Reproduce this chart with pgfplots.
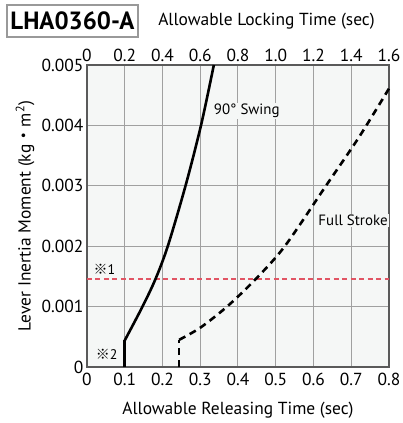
\documentclass[border=0pt]{standalone}
\usepackage{pgfplots}
\pgfplotsset{compat=1.18}
\usepackage{fontspec}
\setmainfont{PT Sans}
\newfontfamily\cjk{Noto Sans CJK JP}
\definecolor{bgc}{HTML}{F5F7F6}
\definecolor{gridc}{HTML}{A0A0A0}
\definecolor{axc}{HTML}{5A5A5A}
\begin{document}
\begin{tikzpicture}[x=1bp,y=1bp]
\useasboundingbox (-87,-56) rectangle (316,367);
\begin{axis}[at={(0,0)}, anchor=south west, scale only axis, width=302bp, height=302bp,
  xmin=0, xmax=0.8, ymin=0, ymax=0.005,
  scaled y ticks=false, scaled x ticks=false,
  xtick={0,0.1,0.2,0.3,0.4,0.5,0.6,0.7,0.8},
  xticklabels={0,0.1,0.2,0.3,0.4,0.5,0.6,0.7,0.8},
  ytick={0,0.001,0.002,0.003,0.004,0.005},
  yticklabels={0,0.001,0.002,0.003,0.004,0.005},
  grid=major, major grid style={gridc, line width=1bp},
  axis line style={axc, line width=2.5bp},
  axis background/.style={fill=bgc},
  major tick length=0pt,
  tick label style={font=\fontsize{17.5}{20}\selectfont},
  xticklabel style={yshift=-3bp},
  /pgf/number format/assume math mode=true,
  xlabel={Allowable Releasing Time (sec)},
  xlabel style={at={(axis description cs:0.5,-0.142)}, anchor=center, font=\fontsize{17.5}{20}\selectfont},
  ylabel={Lever Inertia Moment (kg{\cjk ・}m\textsuperscript{2})},
  ylabel style={at={(axis description cs:-0.205,0.5)}, anchor=center, font=\fontsize{17.5}{20}\selectfont},
  clip=false,
]
\addplot[draw={rgb,255:red,225;green,85;blue,100}, line width=2bp, dash pattern=on 5bp off 3.5bp] coordinates {(0,0.00145) (0.8,0.00145)};
\addplot[black, line width=2.6bp] coordinates {(0.1,0) (0.1,0.00044)};
\addplot[black, line width=2.6bp, smooth] coordinates {(0.1,0.00044) (0.147,0.001) (0.181,0.00145) (0.214,0.002) (0.261,0.003) (0.302,0.004) (0.336,0.005)};
\addplot[black, line width=2.6bp, dash pattern=on 7bp off 5bp] coordinates {(0.244,0) (0.244,0.00044)};
\addplot[black, line width=2.6bp, dash pattern=on 7bp off 5bp, smooth] coordinates {(0.244,0.00045) (0.3,0.00065) (0.371,0.001) (0.446,0.00145) (0.524,0.002) (0.633,0.003) (0.72,0.0038) (0.8,0.00461)};
\node[anchor=west, fill=bgc, inner sep=1bp, font=\fontsize{15}{18}\selectfont] at (axis cs:0.333,0.00424) {90° Swing};
\node[anchor=west, fill=bgc, inner sep=1bp, font=\fontsize{15}{18}\selectfont] at (axis cs:0.61,0.00243) {Full Stroke};
\node[anchor=west, inner sep=0bp, font=\fontsize{14}{17}\selectfont] at (axis cs:0.017,0.00162) {{\cjk ※}1};
\node[anchor=west, inner sep=0bp, font=\fontsize{14}{17}\selectfont] at (axis cs:0.023,0.00021) {{\cjk ※}2};
\end{axis}
\begin{axis}[at={(0,0)}, anchor=south west, scale only axis, width=302bp, height=302bp,
  xmin=0, xmax=1.6, ymin=0, ymax=1,
  axis x line*=top, axis y line=none, axis line style={draw=none},
  xtick={0,0.2,0.4,0.6,0.8,1.0,1.2,1.4,1.6},
  xticklabels={0,0.2,0.4,0.6,0.8,1.0,1.2,1.4,1.6},
  major tick length=0pt,
  tick label style={font=\fontsize{17.5}{20}\selectfont},
]
\end{axis}
\node[draw=gray!80, line width=1.2bp, fill=white, minimum width=131bp, minimum height=32bp, inner sep=0pt, font=\bfseries\fontsize{25}{28}\selectfont] at (-14.5,346) {LHA0360-A};
\node[font=\fontsize{17.5}{20}\selectfont] at (179.5,346) {Allowable Locking Time (sec)};
\end{tikzpicture}
\end{document}
